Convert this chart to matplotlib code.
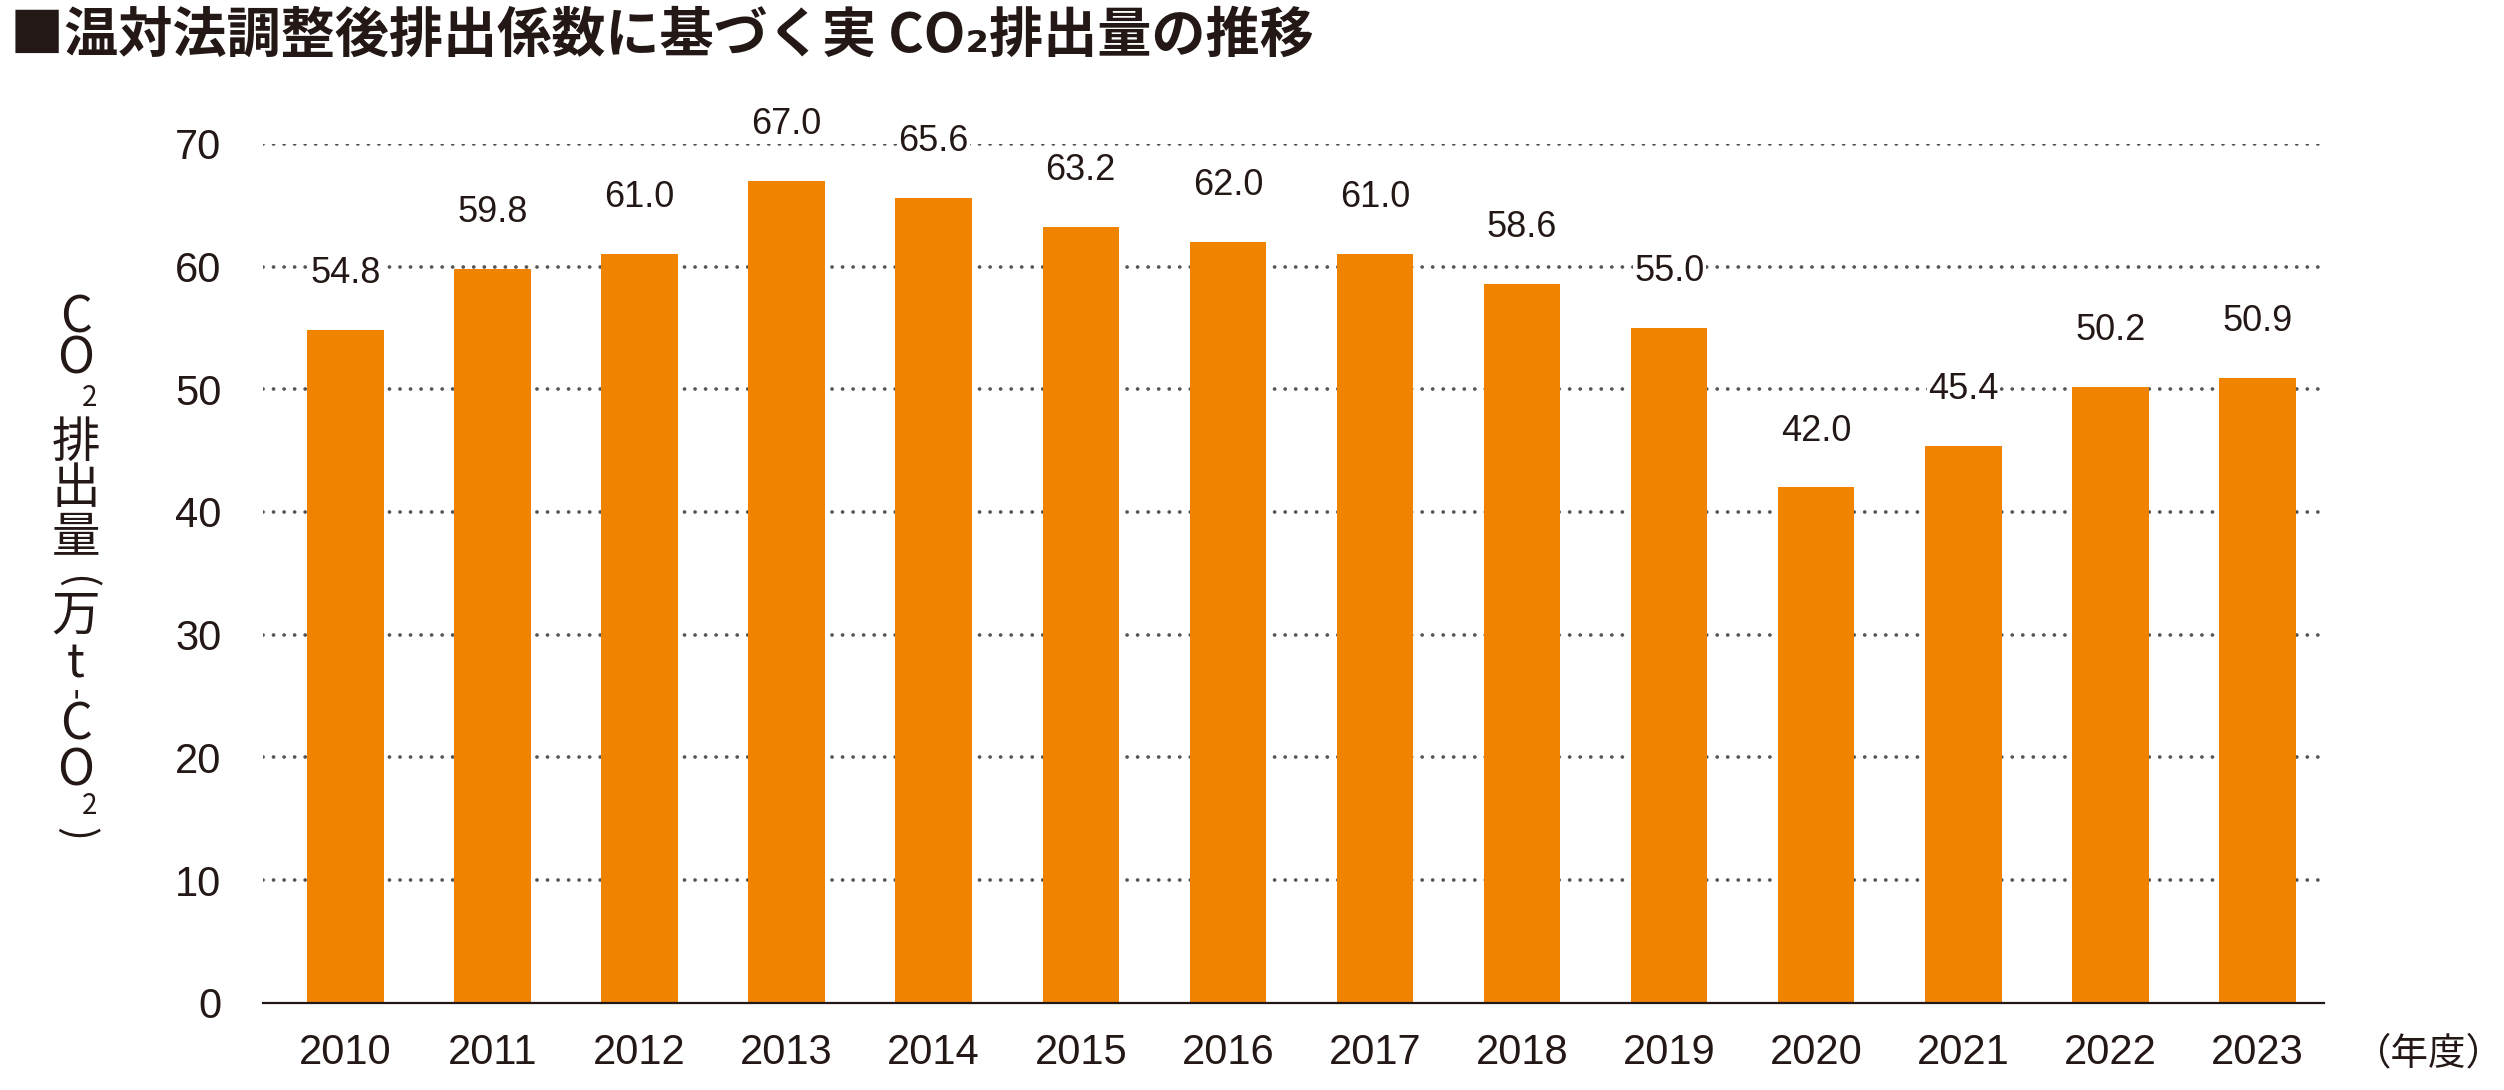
import matplotlib
matplotlib.use("Agg")
import matplotlib.pyplot as plt
from matplotlib import font_manager
import numpy as np

years = ['2010', '2011', '2012', '2013', '2014', '2015', '2016',
         '2017', '2018', '2019', '2020', '2021', '2022', '2023']
co2 = [54.8, 59.8, 61.0, 67.0, 65.6, 63.2, 62.0,
       61.0, 58.6, 55.0, 42.0, 45.4, 50.2, 50.9]
yticks = [0, 10, 20, 30, 40, 50, 60, 70]

title = '■温対法調整後排出係数に基づく実 CO₂排出量の推移'
unit_x = '（年度）'

BAR = '#f08300'
INK = '#231815'
GRID = '#555555'

names = {f.name for f in font_manager.fontManager.ttflist}
if 'Liberation Sans Narrow' in names:
    NUM = 'Liberation Sans Narrow'
else:
    NUM = 'Liberation Sans'
JP = ['Noto Sans CJK JP', 'DejaVu Sans']

plt.rcParams['font.family'] = JP

fig = plt.figure(figsize=(25.04, 10.90), dpi=100)
ax = fig.add_axes([0.105, 0.080, 0.823, 0.788])

x = np.arange(len(years))
ax.bar(x, co2, width=0.52, color=BAR, zorder=3)

for xi, v in zip(x, co2):
    ax.text(xi, v + 4.6, f'{v:.1f}', ha='center', va='center',
            fontsize=26, color=INK, family=NUM, zorder=4, clip_on=False,
            bbox=dict(facecolor='white', edgecolor='none', pad=1))

ax.set_xlim(-0.56, 13.45)
ax.set_ylim(0, 70)
ax.set_yticks(yticks)
ax.set_yticklabels([str(t) for t in yticks], family=NUM, fontsize=30, color=INK)
ax.set_xticks(x)
ax.set_xticklabels(years, family=NUM, fontsize=30, color=INK)
ax.tick_params(axis='both', length=0)
ax.tick_params(axis='x', pad=22)
ax.tick_params(axis='y', pad=30)

for t in yticks[1:]:
    ax.axhline(t, color=GRID, lw=2.7, linestyle=(0, (0.01, 2.8)),
               dash_capstyle='round', zorder=1)

for s in ['top', 'right', 'left']:
    ax.spines[s].set_visible(False)
ax.spines['bottom'].set_color(INK)
ax.spines['bottom'].set_linewidth(1.6)
ax.spines['bottom'].set_zorder(5)

# title
fig.text(0.004, 0.967, title, fontsize=39, fontweight='bold', color=INK,
         ha='left', va='center', family=JP)

# x unit
fig.text(0.970, 0.033, unit_x, fontsize=27, color=INK, ha='center',
         va='center', family=JP)

# vertical y label, stacked characters: (char, size, dx px, y px, rotation)
ylab = [('C', 36, 0, 318, 0), ('O', 36, 0, 359, 0), ('2', 20, 14, 398, 0),
        ('排', 35, 0, 443, 0), ('出', 35, 0, 489, 0), ('量', 35, 0, 538, 0),
        ('(', 30, 0, 582, -90), ('万', 35, 0, 616, 0), ('t', 34, 0, 664, 0),
        ('-', 24, 0, 692, 90), ('C', 36, 0, 725, 0), ('O', 36, 0, 771, 0),
        ('2', 20, 14, 806, 0), (')', 30, 0, 834, -90)]
for ch, fs, dx, ypix, rot in ylab:
    fig.text((76 + dx) / 2504, 1 - ypix / 1090, ch, fontsize=fs, color=INK,
             ha='center', va='center', family=JP, rotation=rot)

fig.savefig('out.png', dpi=100)
